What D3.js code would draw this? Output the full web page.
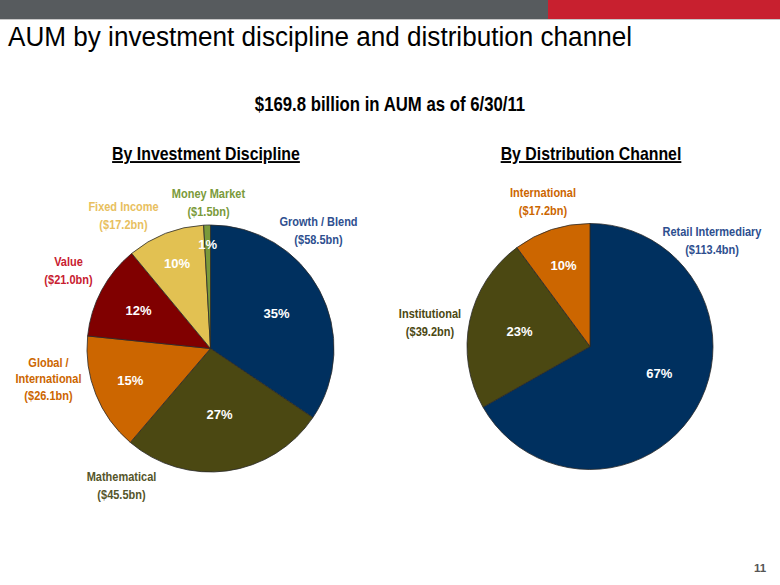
<!DOCTYPE html>
<html>
<head>
<meta charset="utf-8">
<script src="https://cdn.jsdelivr.net/npm/d3@7"></script>
<style>
  body { margin: 0; background: #fff; }
  svg text { font-family: "Liberation Sans", Arial, sans-serif; }
  .title { font-size: 27px; fill: #000; }
  .subtitle { font-size: 19.5px; font-weight: bold; fill: #000; }
  .chart-title { font-size: 19px; font-weight: bold; fill: #000; text-decoration: underline; }
  .slice-label { font-size: 12.5px; font-weight: bold; }
  .pct { font-size: 13px; font-weight: bold; fill: #fff; }
</style>
</head>
<body>
<div id="chart"></div>
<script>
let totalWidth = 780
let totalHeight = 585
let squeeze = 0.86   // the slide uses a condensed face, so squash Liberation Sans horizontally

// AUM by investment discipline ($bn), clockwise from 12 o'clock
let disciplines = ["Growth / Blend", "Mathematical", "Global / International", "Value", "Fixed Income", "Money Market"]
let disciplineAum = [58.5, 45.5, 26.1, 21.0, 17.2, 1.5]
let disciplinePct = ["35%", "27%", "15%", "12%", "10%", "1%"]

// AUM by distribution channel ($bn)
let channels = ["Retail Intermediary", "Institutional", "International"]
let channelAum = [113.4, 39.2, 17.2]
let channelPct = ["67%", "23%", "10%"]

let disciplineColors = ["#00305f", "#4b4812", "#cc6600", "#800000", "#e2c152", "#7a9a3a"]
let disciplineTextColors = ["#2e4f8f", "#55552a", "#cc6600", "#c8202f", "#e8c060", "#7a9a3a"]
let channelColors = ["#00305f", "#4b4812", "#cc6600"]
let channelTextColors = ["#2e4f8f", "#4b4812", "#cc6600"]

let svg = d3.select("#chart").append("svg")
    .attr("width", totalWidth)
    .attr("height", totalHeight)

// header band
svg.append("rect").attr("x", 0).attr("y", 0).attr("width", 548).attr("height", 19).attr("fill", "#575b5e")
svg.append("rect").attr("x", 548).attr("y", 0).attr("width", 232).attr("height", 19).attr("fill", "#c8202f")
svg.append("rect").attr("x", 0).attr("y", 19).attr("width", 780).attr("height", 1).attr("fill", "#c8c8c8")

svg.append("text")
    .attr("class", "title")
    .attr("x", 8)
    .attr("y", 46)
    .attr("textLength", 624)
    .attr("lengthAdjust", "spacingAndGlyphs")
    .text("AUM by investment discipline and distribution channel")

svg.append("text")
    .attr("class", "subtitle")
    .attr("transform", `translate(390,111) scale(${squeeze},1)`)
    .attr("text-anchor", "middle")
    .text("$169.8 billion in AUM as of 6/30/11")

svg.append("text")
    .attr("x", 760)
    .attr("y", 572)
    .attr("text-anchor", "middle")
    .style("font-size", "11.5px")
    .style("font-weight", "bold")
    .style("fill", "#555")
    .text("11")

// label layout: first-baseline offset [dx, dy] from pie centre for outside labels,
// and [radius factor, angle shift in degrees] for the % labels
let leftOuter = [[108, -123], [-89, 132], [-162, 18], [-142, -83], [-87, -138], [-2, -151]]
let leftInner = [[0.605, 0], [0.54, 0], [0.7, 0], [0.66, 0], [0.74, 0], [0.84, 0]]
let rightOuter = [[122, -111], [-160, -29], [-47, -150]]
let rightInner = [[0.605, -9], [0.585, 0], [0.69, 0]]

function drawPie(cx, cy, r, names, values, pcts, colors, textColors, outer, inner, title, titleX) {
    let g = svg.append("g").attr("transform", `translate(${cx},${cy})`)

    let pie = d3.pie().sort(null).value(d => d)
    let arcs = pie(values)
    let arc = d3.arc().innerRadius(0).outerRadius(r)

    g.selectAll("path")
        .data(arcs)
        .enter()
        .append("path")
        .attr("d", arc)
        .attr("fill", (d, i) => colors[i])
        .attr("stroke", "#2a2a2a")
        .attr("stroke-width", 0.8)

    g.selectAll("text.pct")
        .data(arcs)
        .enter()
        .append("text")
        .attr("class", "pct")
        .attr("transform", (d, i) => {
            let a = (d.startAngle + d.endAngle) / 2 + inner[i][1] * Math.PI / 180
            let rr = r * inner[i][0]
            return `translate(${Math.sin(a) * rr},${-Math.cos(a) * rr})`
        })
        .attr("text-anchor", "middle")
        .attr("dy", "0.35em")
        .text((d, i) => pcts[i])

    names.forEach((name, i) => {
        let lines = name === "Global / International" ? ["Global /", "International"] : [name]
        lines.push("($" + values[i].toFixed(1) + "bn)")
        let step = lines.length > 2 ? 17 : 18.3
        let t = g.append("text")
            .attr("class", "slice-label")
            .attr("text-anchor", "middle")
            .attr("transform", `translate(${outer[i][0]},${outer[i][1]}) scale(0.88,1)`)
            .style("fill", textColors[i])
        lines.forEach((ln, j) => {
            t.append("tspan")
                .attr("x", 0)
                .attr("y", j * step)
                .text(ln)
        })
    })

    svg.append("text")
        .attr("class", "chart-title")
        .attr("transform", `translate(${titleX},160) scale(0.835,1)`)
        .attr("text-anchor", "middle")
        .text(title)
}

drawPie(210.5, 348.5, 123.5, disciplines, disciplineAum, disciplinePct,
    disciplineColors, disciplineTextColors, leftOuter, leftInner, "By Investment Discipline", 206)
drawPie(590, 346.5, 123, channels, channelAum, channelPct,
    channelColors, channelTextColors, rightOuter, rightInner, "By Distribution Channel", 591)
</script>
</body>
</html>
